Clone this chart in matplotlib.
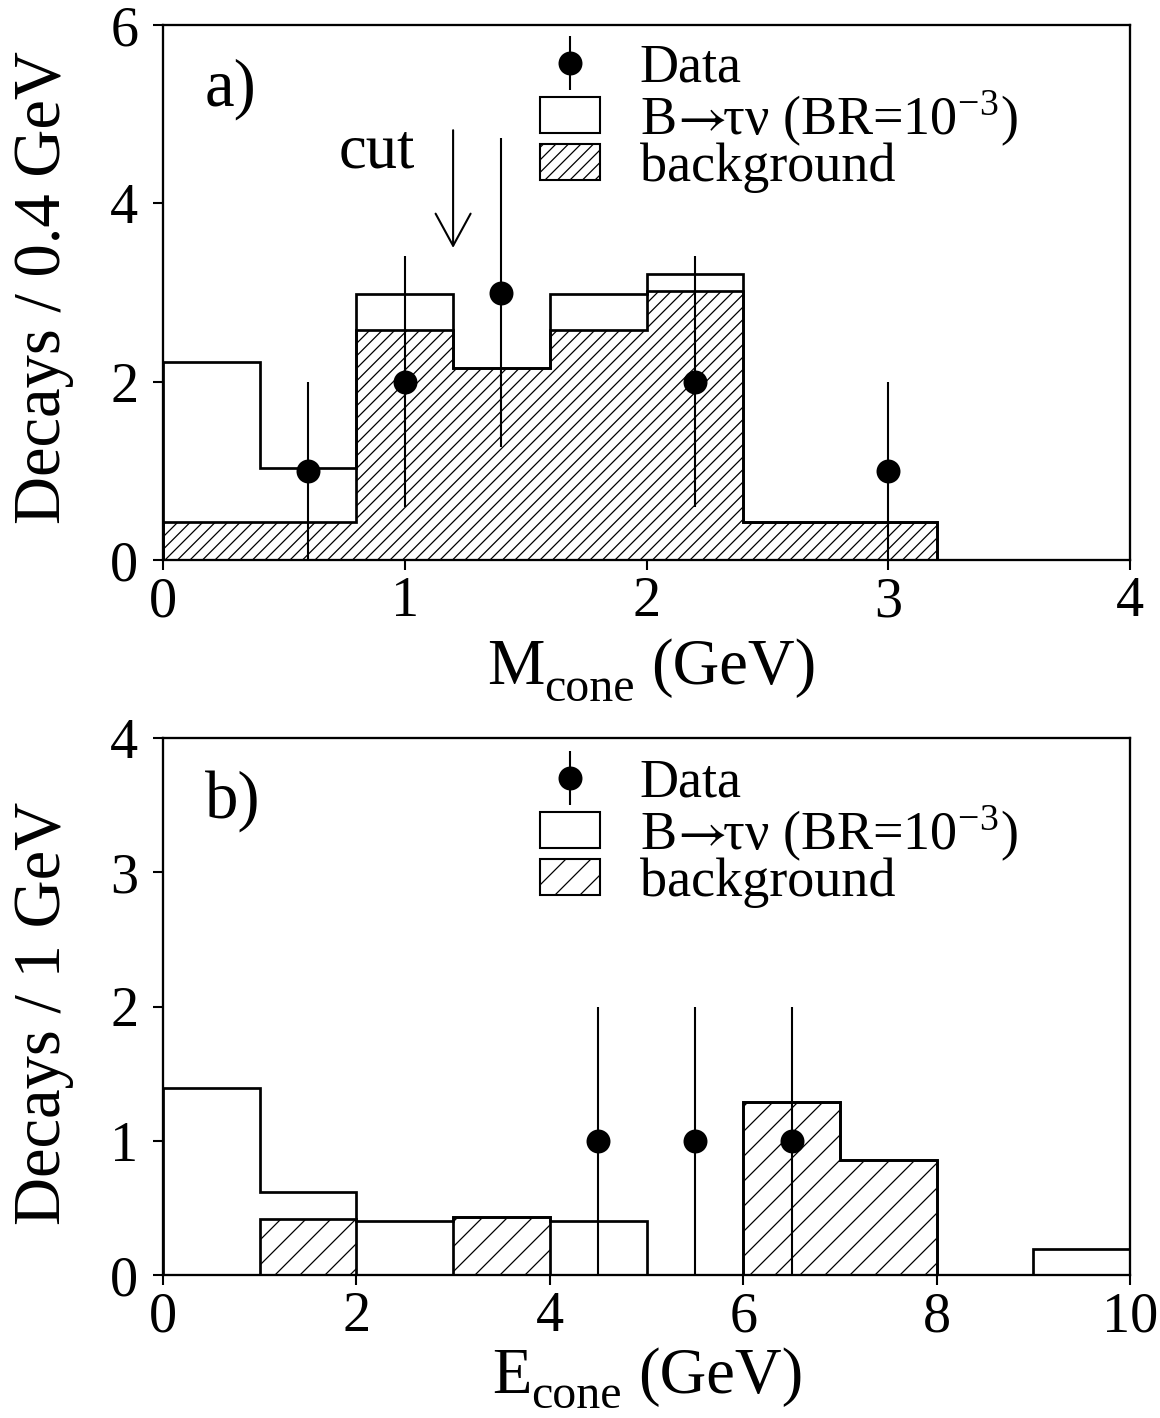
import numpy as np
import matplotlib
matplotlib.use("Agg")
import matplotlib.pyplot as plt
from matplotlib.patches import Patch

plt.rcParams['font.family'] = ['Liberation Serif', 'DejaVu Serif']
plt.rcParams['mathtext.fontset'] = 'stix'
plt.rcParams['hatch.linewidth'] = 0.6

# panel a) : M_cone, 0.4 GeV bins
a_edges = [0.0, 0.4, 0.8, 1.2, 1.6, 2.0, 2.4, 2.8, 3.2]
a_total = [2.22, 1.03, 2.98, 2.15, 2.98, 3.21, 0.43, 0.43]
a_bkg = [0.43, 0.43, 2.58, 2.15, 2.58, 3.02, 0.43, 0.43]
a_data_x = [0.6, 1.0, 1.4, 2.2, 3.0]
a_data_y = [1, 2, 3, 2, 1]
a_data_err = [1.0, 1.41, 1.73, 1.41, 1.0]
a_cut = 1.2

# panel b) : E_cone, 1 GeV bins
b_edges = [0, 1, 2, 3, 4, 5, 6, 7, 8, 9, 10]
b_total = [1.39, 0.62, 0.40, 0.43, 0.40, 0.0, 1.29, 0.86, 0.0, 0.19]
b_bkg = [0.0, 0.42, 0.0, 0.43, 0.0, 0.0, 1.29, 0.86, 0.0, 0.0]
b_data_x = [4.5, 5.5, 6.5]
b_data_y = [1, 1, 1]
b_data_err = [1.0, 1.0, 1.0]

sig_label = r'B$\!{\rightarrow}\!\!$τν (BR=10$^{\mathregular{-3}}$)'

W, H, DPI = 1160, 1418, 150
fig = plt.figure(figsize=(W / DPI, H / DPI), dpi=DPI)
ax1 = fig.add_axes([163 / W, 1 - 560 / H, 967 / W, 535 / H])
ax2 = fig.add_axes([163 / W, 1 - 1275 / H, 967 / W, 537 / H])


def draw_panel(ax, edges, total, bkg, dx, dy, derr, hatch, leg_top):
    ax.stairs(bkg, edges, fill=True, facecolor='white', edgecolor='black',
              hatch=hatch, linewidth=1.3, zorder=2)
    ax.stairs(total, edges, fill=False, color='black', linewidth=1.3, zorder=3)
    eb = ax.errorbar(dx, dy, yerr=derr, fmt='o', color='black', ms=10.5,
                     elinewidth=1.0, capsize=0, zorder=4)
    p_sig = Patch(facecolor='white', edgecolor='black', linewidth=1.0)
    p_bkg = Patch(facecolor='white', edgecolor='black', linewidth=1.0, hatch=hatch)
    ax.legend([eb, p_sig, p_bkg], ['Data', sig_label, 'background'],
              loc='upper left', bbox_to_anchor=(0.39, leg_top), frameon=False,
              fontsize=26, handlelength=1.1, handleheight=0.64,
              handletextpad=0.74, labelspacing=-0.1, borderpad=0,
              borderaxespad=0)
    for s in ax.spines.values():
        s.set_linewidth(1.1)
    ax.tick_params(direction='out', length=4.8, width=1.0, labelsize=27,
                   top=False, right=False)
    ax.tick_params(axis='x', pad=3)
    ax.tick_params(axis='y', pad=7)


def xlabel_parts(ax, x, y, main, sub, drop):
    # big letter, lowered subscript, then the unit
    t1 = ax.text(x, y, main, transform=ax.transAxes, fontsize=31,
                 ha='left', va='baseline')
    t2 = ax.annotate(sub, xy=(1, 0), xycoords=t1, xytext=(0, -drop),
                     textcoords='offset points', fontsize=23,
                     ha='left', va='baseline')
    ax.annotate('(GeV)', xy=(1, 0), xycoords=(t2, t1), xytext=(8, 0),
                textcoords='offset points', fontsize=31,
                ha='left', va='bottom')


draw_panel(ax1, a_edges, a_total, a_bkg, a_data_x, a_data_y, a_data_err,
           '////', 0.967)
ax1.set_xlim(0, 4)
ax1.set_ylim(0, 6)
ax1.set_xticks([0, 1, 2, 3, 4])
ax1.set_yticks([0, 2, 4, 6])
xlabel_parts(ax1, 0.335, -0.232, 'M', 'cone', 1.5)
ax1.set_ylabel('Decays / 0.4 GeV', fontsize=32)
ax1.yaxis.set_label_coords(-0.092, 0.51)
ax1.text(0.043, 0.85, 'a)', transform=ax1.transAxes, fontsize=32,
         ha='left', va='baseline')
ax1.text(0.885, 4.40, 'cut', fontsize=30, ha='center', va='baseline')
ax1.annotate('', xy=(a_cut, 3.50), xytext=(a_cut, 4.82),
             arrowprops=dict(arrowstyle='->,head_length=1.1,head_width=0.6',
                             lw=1.0, color='black', mutation_scale=14,
                             shrinkA=0, shrinkB=0))

draw_panel(ax2, b_edges, b_total, b_bkg, b_data_x, b_data_y, b_data_err,
           '//', 0.963)
ax2.set_xlim(0, 10)
ax2.set_ylim(0, 4)
ax2.set_xticks([0, 2, 4, 6, 8, 10])
ax2.set_yticks([0, 1, 2, 3, 4])
xlabel_parts(ax2, 0.340, -0.219, 'E', 'cone', 0.5)
ax2.set_ylabel('Decays / 1 GeV', fontsize=32)
ax2.yaxis.set_label_coords(-0.092, 0.487)
ax2.text(0.043, 0.851, 'b)', transform=ax2.transAxes, fontsize=32,
         ha='left', va='baseline')

fig.savefig('out.png', dpi=DPI)
